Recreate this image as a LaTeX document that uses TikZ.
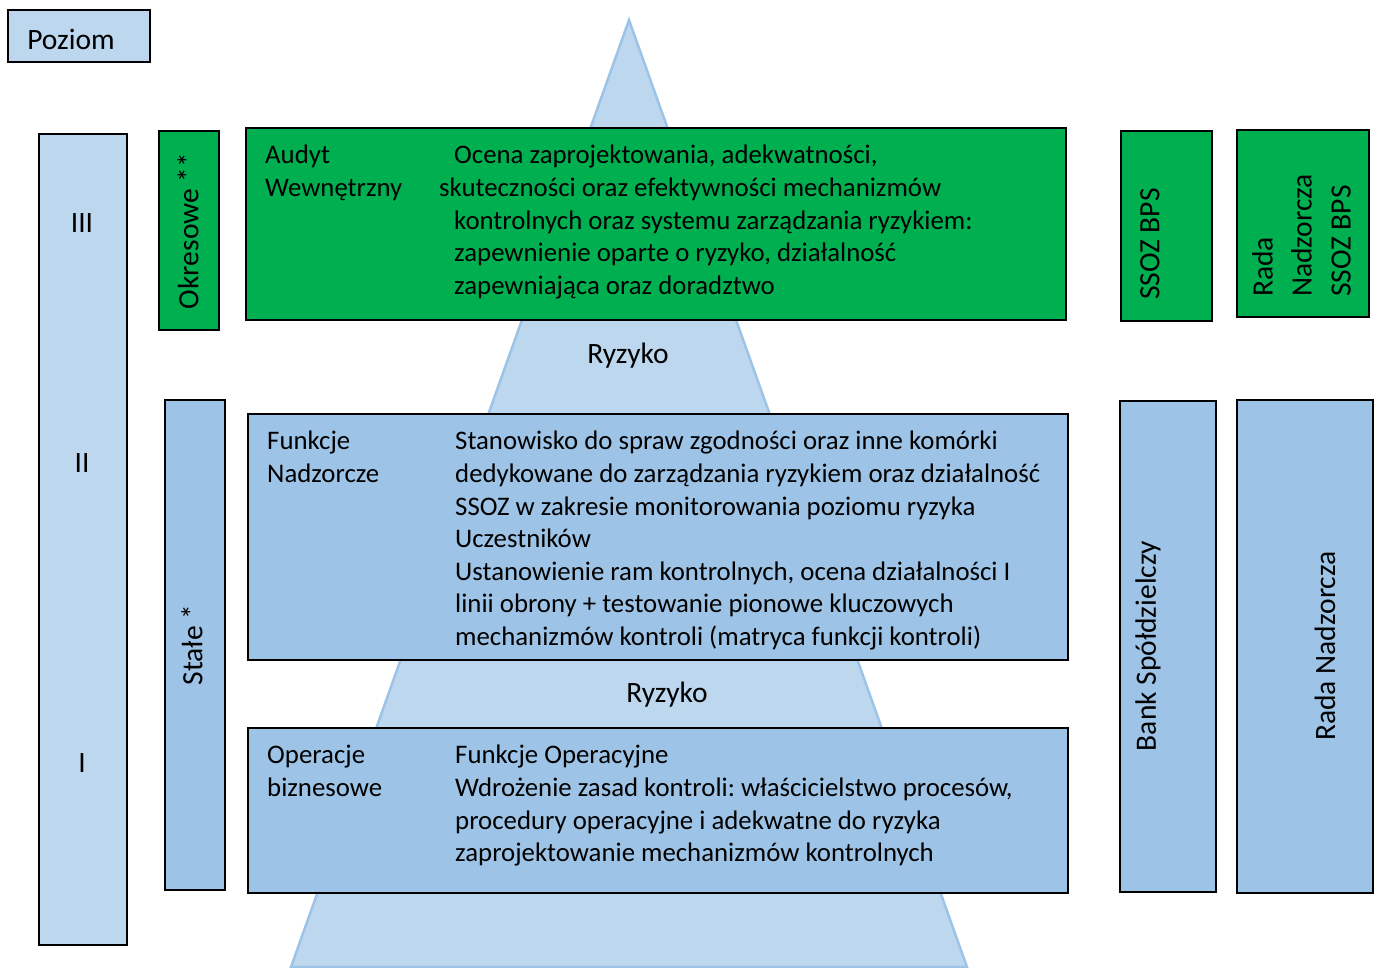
\documentclass[tikz,border=0pt]{standalone}
\usepackage{fontspec}
\setmainfont{Carlito}
\frenchspacing
\definecolor{lblue}{HTML}{BDD7EE}
\definecolor{mblue}{HTML}{9DC3E6}
\definecolor{gr}{HTML}{00B050}
\tikzset{
  x=1pt, y=-1pt,
  bx/.style={draw=black, line width=1.6pt, inner sep=0pt, anchor=north west},
  gbox/.style={bx, fill=gr},
  bbox/.style={bx, fill=mblue},
  lbox/.style={bx, fill=lblue},
  txt/.style={font=\fontsize{26.8}{32.6}\selectfont, inner sep=0pt, align=left},
  lbl/.style={font=\fontsize{29.5}{39}\selectfont, inner sep=0pt, align=left},
}
\newcommand{\rbox}[6]{\node[#1, minimum width=#4pt, minimum height=#5pt] (#6) at (#2,#3) {};}
\begin{document}
\begin{tikzpicture}
\useasboundingbox (0,0) rectangle (1379,967);
% pyramid
\path[fill=lblue, draw=mblue, line width=2.5pt] (629,20) coordinate (apex) -- (291,967) coordinate (bl) -- (967,967) coordinate (br) -- cycle;
% boxes
\rbox{lbox}{7}{9}{142}{52}{poz}
\rbox{lbox}{38}{133}{88}{811}{lev}
\rbox{gbox}{158}{130}{60}{199}{okr}
\rbox{bbox}{164}{399}{60}{490}{sta}
\rbox{gbox}{245}{127}{820}{192}{aud}
\rbox{bbox}{247}{413}{820}{246}{fun}
\rbox{bbox}{247}{727}{820}{165}{ope}
\rbox{gbox}{1120}{130}{91}{190}{ssoz}
\rbox{gbox}{1236}{129}{132}{187}{rns}
\rbox{bbox}{1119}{400}{96}{491}{bank}
\rbox{bbox}{1236}{399}{136}{493}{rn}
% texts
\node[lbl] (tpoz) at (71,39) {Poziom};
\node[lbl] (t3) at (82,223) {III};
\node[lbl] (t2) at (82,463) {II};
\node[lbl] (t1) at (82,763) {I};
\node[lbl, rotate=90] (tokr) at (188,231) {Okresowe **};
\node[lbl, rotate=90] (tsta) at (192,645) {Stałe *};
\node[lbl] (ry1) at (628,356) {Ryzyko};
\node[lbl] (ry2) at (667,695) {Ryzyko};
\node[txt, anchor=north west] (taud1) at (265,145) {Audyt\\Wewnętrzny};
\node[txt, anchor=north west] (taud2) at (439,145) {\hspace*{15pt}Ocena zaprojektowania, adekwatności,\\skuteczności oraz efektywności mechanizmów\\\hspace*{15pt}kontrolnych oraz systemu zarządzania ryzykiem:\\\hspace*{15pt}zapewnienie oparte o ryzyko, działalność\\\hspace*{15pt}zapewniająca oraz doradztwo};
\node[txt, anchor=north west] (tfun1) at (267,431) {Funkcje\\Nadzorcze};
\node[txt, anchor=north west] (tfun2) at (455,431) {Stanowisko do spraw zgodności oraz inne komórki\\dedykowane do zarządzania ryzykiem oraz działalność\\SSOZ w zakresie monitorowania poziomu ryzyka\\Uczestników\\Ustanowienie ram kontrolnych, ocena działalności I\\linii obrony + testowanie pionowe kluczowych\\mechanizmów kontroli (matryca funkcji kontroli)};
\node[txt, anchor=north west] (tope1) at (267,745) {Operacje\\biznesowe};
\node[txt, anchor=north west] (tope2) at (455,745) {Funkcje Operacyjne\\Wdrożenie zasad kontroli: właścicielstwo procesów,\\procedury operacyjne i adekwatne do ryzyka\\zaprojektowanie mechanizmów kontrolnych};
\node[lbl, rotate=90] (tssoz) at (1150,244) {SSOZ BPS};
\node[lbl, rotate=90, anchor=north west] (trns) at (1252,297) {Rada\\Nadzorcza\\SSOZ BPS};
\node[lbl, rotate=90] (tbank) at (1148,646) {Bank Spółdzielczy};
\node[lbl, rotate=90] (trn) at (1325,646) {Rada Nadzorcza};
\end{tikzpicture}
\end{document}
